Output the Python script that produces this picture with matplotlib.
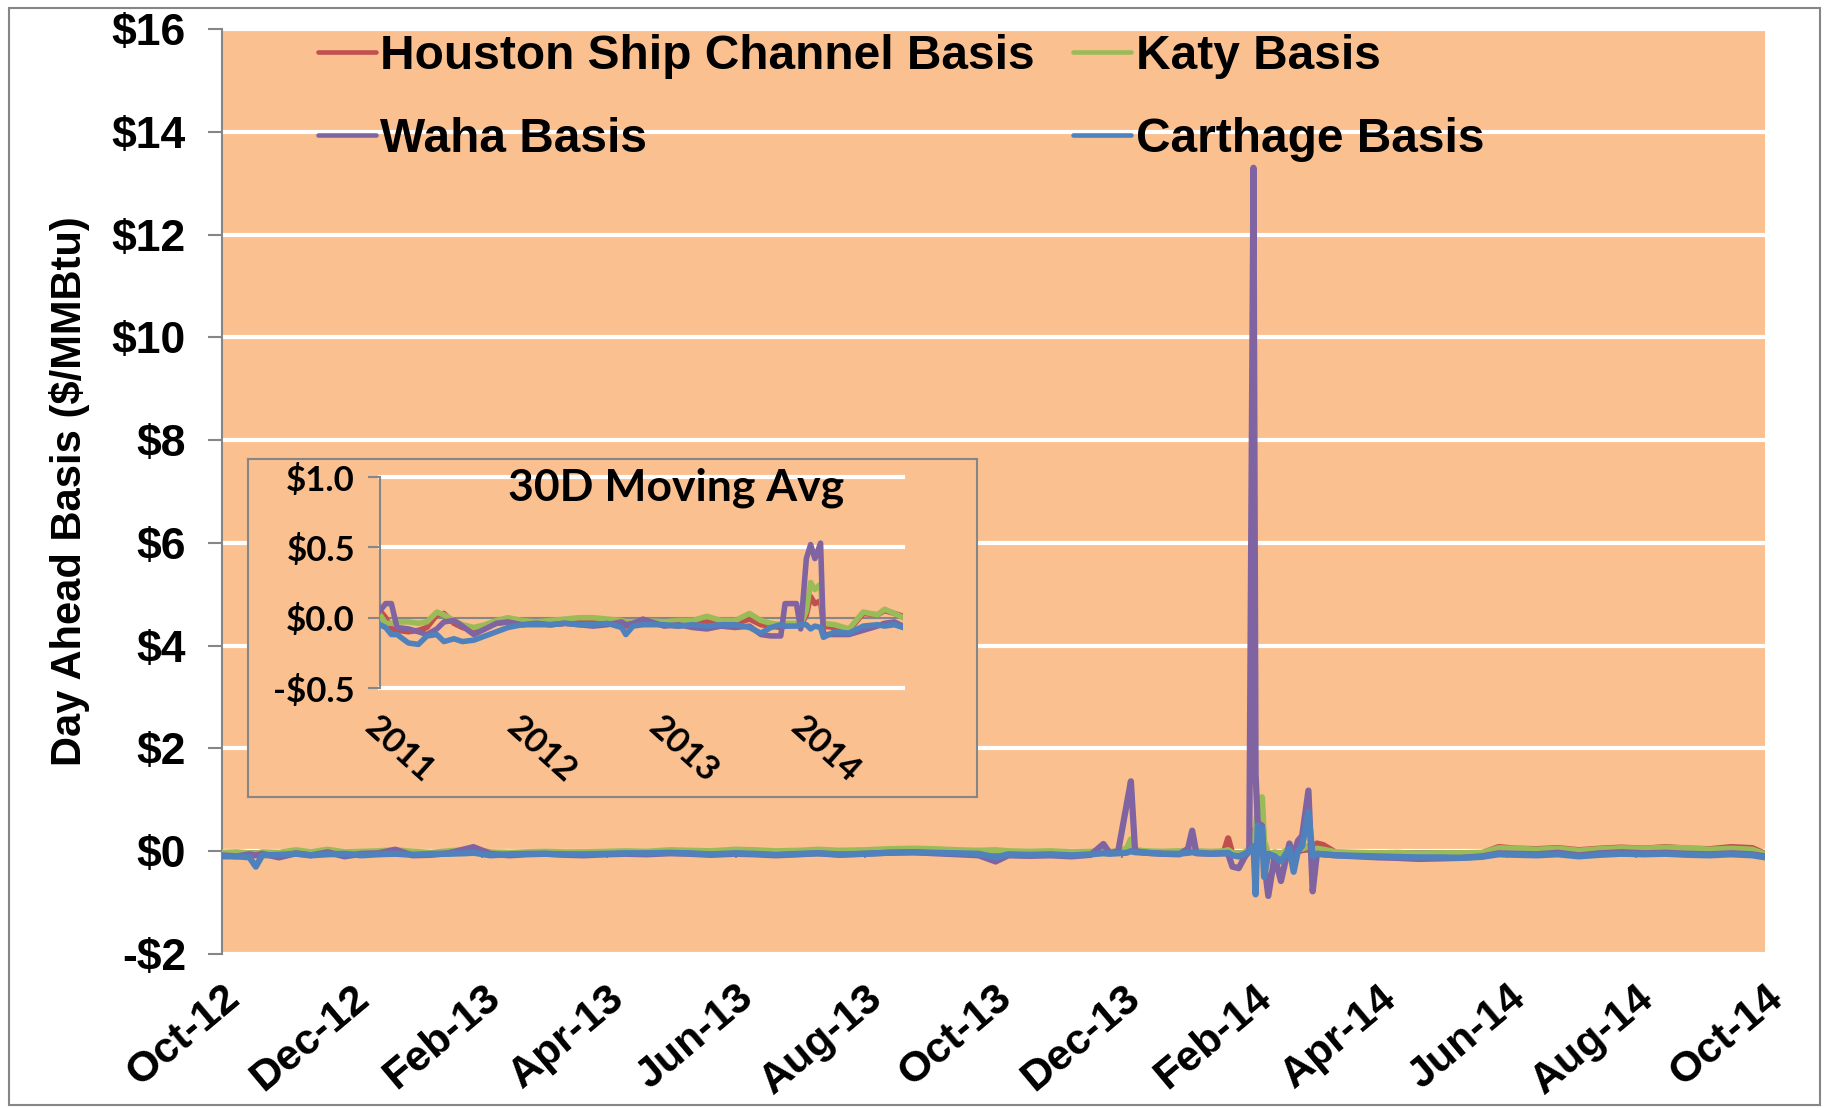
import pandas as pd
import matplotlib
matplotlib.use("Agg")
import matplotlib.pyplot as plt
import matplotlib.dates as mdates
from matplotlib.patches import Rectangle
from matplotlib.ticker import FuncFormatter

ORANGE = "#FAC090"
GRAY = "#868686"
C_HSC = "#C0504D"
C_KATY = "#9BBB59"
C_WAHA = "#8064A2"
C_CARTH = "#4F81BD"

# ---- daily basis, Oct-12 .. Oct-14 ($/MMBtu) ----
dates = pd.to_datetime([
    "2012-10-01", "2012-10-08", "2012-10-14", "2012-10-17", "2012-10-20", "2012-10-28",
    "2012-11-05", "2012-11-12", "2012-11-20", "2012-11-28", "2012-12-06", "2012-12-14",
    "2012-12-22", "2012-12-30", "2013-01-08", "2013-01-16", "2013-01-24", "2013-01-28",
    "2013-02-05", "2013-02-14", "2013-02-22", "2013-03-03", "2013-03-12", "2013-03-21",
    "2013-04-01", "2013-04-10", "2013-04-20", "2013-05-01", "2013-05-10", "2013-05-20",
    "2013-06-01", "2013-06-10", "2013-06-20", "2013-07-01", "2013-07-10", "2013-07-20",
    "2013-08-01", "2013-08-12", "2013-08-24", "2013-09-03", "2013-09-14", "2013-09-24",
    "2013-10-02", "2013-10-08", "2013-10-18", "2013-10-28", "2013-11-07", "2013-11-16",
    "2013-11-22", "2013-11-25", "2013-11-29", "2013-12-03", "2013-12-05", "2013-12-07",
    "2013-12-12", "2013-12-20", "2013-12-28", "2014-01-01", "2014-01-03", "2014-01-05",
    "2014-01-12", "2014-01-18", "2014-01-20", "2014-01-22", "2014-01-25", "2014-01-28",
    "2014-01-30", "2014-02-01", "2014-02-02", "2014-02-03", "2014-02-05", "2014-02-06",
    "2014-02-08", "2014-02-11", "2014-02-14", "2014-02-18", "2014-02-20", "2014-02-22",
    "2014-02-24", "2014-02-27", "2014-03-01", "2014-03-03", "2014-03-06", "2014-03-12",
    "2014-03-22", "2014-04-01", "2014-04-10", "2014-04-20", "2014-05-01", "2014-05-10",
    "2014-05-20", "2014-05-28", "2014-06-05", "2014-06-15", "2014-06-25", "2014-07-05",
    "2014-07-15", "2014-07-25", "2014-08-05", "2014-08-15", "2014-08-25", "2014-09-05",
    "2014-09-15", "2014-09-25", "2014-10-01",
])
hsc = [
    -0.05, -0.04, -0.06, -0.07, -0.05, -0.08,
    -0.03, -0.06, -0.04, -0.05, -0.04, -0.03,
    -0.02, -0.04, -0.05, -0.03, -0.02, -0.01,
    -0.06, -0.05, -0.04, -0.03, -0.04, -0.03,
    -0.03, -0.02, -0.03, -0.01, -0.02, -0.03,
    -0.02, -0.01, -0.03, -0.02, -0.01, -0.03,
    -0.02, -0.01, 0.00, -0.01, -0.02, -0.03,
    -0.02, -0.03, -0.03, -0.02, -0.04, -0.03,
    -0.02, -0.03, -0.02, -0.01, 0.02, -0.01,
    -0.02, -0.03, -0.02, -0.02, -0.01, -0.02,
    -0.03, -0.02, 0.25, -0.05, -0.10, -0.03,
    0.00, 0.40, 0.20, 0.50, 0.80, 0.00,
    -0.10, -0.05, -0.10, 0.00, -0.05, 0.00,
    0.02, 0.05, 0.00, 0.15, 0.12, -0.03,
    -0.04, -0.05, -0.04, -0.06, -0.05, -0.06,
    -0.04, 0.08, 0.05, 0.04, 0.06, 0.02,
    0.05, 0.07, 0.05, 0.08, 0.05, 0.04,
    0.08, 0.06, -0.05,
]
katy = [
    -0.03, -0.02, -0.04, -0.05, -0.02, -0.03,
    0.02, -0.02, 0.03, -0.02, -0.01, 0.00,
    0.02, -0.01, -0.03, 0.00, 0.02, 0.03,
    -0.02, -0.03, -0.02, -0.01, -0.02, -0.02,
    -0.01, 0.00, -0.01, 0.02, 0.01, 0.00,
    0.03, 0.02, 0.00, 0.01, 0.03, 0.01,
    0.02, 0.04, 0.05, 0.04, 0.02, 0.01,
    0.02, 0.00, -0.01, 0.00, -0.02, -0.01,
    0.00, -0.01, 0.00, 0.05, 0.23, 0.02,
    0.00, -0.01, 0.00, 0.00, 0.02, 0.00,
    -0.01, 0.00, 0.02, -0.03, -0.05, -0.02,
    0.05, 0.30, 0.40, 0.90, 1.05, 0.20,
    -0.05, -0.02, -0.05, 0.05, -0.02, 0.05,
    0.05, 0.10, -0.02, 0.05, 0.03, -0.02,
    -0.03, -0.04, -0.03, -0.05, -0.04, -0.04,
    -0.03, 0.06, 0.05, 0.03, 0.05, 0.01,
    0.04, 0.06, 0.05, 0.07, 0.06, 0.03,
    0.05, 0.03, -0.06,
]
waha = [
    -0.08, -0.10, -0.06, -0.08, -0.05, -0.12,
    -0.04, -0.08, -0.02, -0.10, -0.05, -0.04,
    0.03, -0.08, -0.07, -0.04, 0.04, 0.08,
    -0.05, -0.08, -0.06, -0.05, -0.07, -0.08,
    -0.06, -0.05, -0.06, -0.04, -0.05, -0.07,
    -0.05, -0.06, -0.08, -0.06, -0.04, -0.07,
    -0.05, -0.03, -0.02, -0.04, -0.06, -0.08,
    -0.20, -0.08, -0.09, -0.08, -0.10, -0.07,
    0.14, -0.04, 0.00, 0.91, 1.36, 0.00,
    -0.03, -0.05, -0.06, 0.05, 0.40, -0.04,
    -0.05, -0.04, -0.05, -0.30, -0.33, -0.10,
    0.00, 13.30, 1.50, 0.55, 0.50, -0.20,
    -0.87, -0.10, -0.58, 0.15, -0.10, 0.20,
    0.30, 1.18, -0.78, -0.05, -0.06, -0.08,
    -0.10, -0.12, -0.13, -0.15, -0.14, -0.13,
    -0.10, -0.04, -0.05, -0.06, -0.03, -0.08,
    -0.04, -0.02, -0.04, -0.03, -0.05, -0.06,
    -0.04, -0.06, -0.10,
]
carthage = [
    -0.10, -0.10, -0.12, -0.30, -0.08, -0.07,
    -0.05, -0.08, -0.06, -0.05, -0.08, -0.06,
    -0.05, -0.07, -0.05, -0.05, -0.04, -0.03,
    -0.08, -0.06, -0.05, -0.05, -0.06, -0.06,
    -0.05, -0.04, -0.04, -0.03, -0.04, -0.06,
    -0.04, -0.05, -0.07, -0.05, -0.04, -0.06,
    -0.05, -0.03, -0.02, -0.03, -0.04, -0.05,
    -0.12, -0.06, -0.07, -0.06, -0.08, -0.06,
    -0.04, -0.05, -0.04, -0.03, 0.00, -0.02,
    -0.03, -0.05, -0.05, -0.03, -0.02, -0.03,
    -0.05, -0.04, -0.03, -0.08, -0.10, -0.05,
    0.00, 0.10, -0.84, 0.50, 0.45, -0.50,
    -0.05, -0.10, -0.20, 0.05, -0.40, 0.00,
    0.10, 0.76, -0.10, -0.05, -0.06, -0.08,
    -0.09, -0.10, -0.11, -0.12, -0.12, -0.13,
    -0.11, -0.06, -0.07, -0.08, -0.06, -0.10,
    -0.07, -0.05, -0.06, -0.05, -0.07, -0.08,
    -0.06, -0.08, -0.12,
]

# ---- 30 day moving average, 2011 .. 2014 (decimal years) ----
ma_years = [
    2011.00, 2011.04, 2011.08, 2011.12, 2011.20, 2011.27, 2011.33, 2011.40, 2011.45,
    2011.52, 2011.58, 2011.66, 2011.74, 2011.82, 2011.90, 2012.00, 2012.10, 2012.20,
    2012.30, 2012.40, 2012.50, 2012.60, 2012.70, 2012.73, 2012.78, 2012.85, 2013.00,
    2013.10, 2013.20, 2013.30, 2013.40, 2013.50, 2013.60, 2013.68, 2013.75, 2013.82,
    2013.85, 2013.93, 2013.96, 2014.00, 2014.03, 2014.06, 2014.10, 2014.12, 2014.20,
    2014.30, 2014.40, 2014.50, 2014.55, 2014.62, 2014.68,
]
ma_hsc = [
    0.05, 0.00, -0.08, -0.09, -0.10, -0.09, -0.07, 0.02, 0.03,
    -0.04, -0.07, -0.09, -0.06, -0.04, -0.03, -0.05, -0.04, -0.05,
    -0.04, -0.03, -0.03, -0.04, -0.05, -0.06, -0.05, -0.04, -0.05,
    -0.06, -0.04, -0.03, -0.05, -0.04, -0.01, -0.05, -0.06, -0.07,
    -0.06, -0.05, -0.06, 0.02, 0.15, 0.10, 0.12, -0.06, -0.07,
    -0.09, 0.03, 0.02, 0.05, 0.03, 0.01,
]
ma_katy = [
    0.02, -0.04, -0.04, -0.03, -0.03, -0.04, -0.03, 0.04, 0.02,
    -0.02, -0.05, -0.07, -0.05, -0.02, 0.00, -0.02, -0.03, -0.02,
    -0.01, 0.00, 0.00, -0.01, -0.02, -0.03, -0.03, -0.02, -0.03,
    -0.02, -0.02, 0.01, -0.02, -0.02, 0.03, -0.02, -0.04, -0.05,
    -0.04, -0.04, -0.05, 0.05, 0.25, 0.20, 0.24, -0.04, -0.05,
    -0.08, 0.04, 0.02, 0.06, 0.03, 0.00,
]
ma_waha = [
    0.05, 0.10, 0.10, -0.07, -0.08, -0.10, -0.12, -0.08, -0.03,
    -0.02, -0.06, -0.12, -0.08, -0.04, -0.03, -0.05, -0.04, -0.05,
    -0.04, -0.05, -0.06, -0.05, -0.03, -0.05, -0.04, -0.01, -0.06,
    -0.05, -0.07, -0.08, -0.06, -0.07, -0.06, -0.12, -0.13, -0.13,
    0.10, 0.10, -0.08, 0.42, 0.52, 0.42, 0.53, -0.12, -0.12,
    -0.12, -0.09, -0.06, -0.04, -0.03, -0.06,
]
ma_carth = [
    -0.05, -0.07, -0.12, -0.12, -0.18, -0.19, -0.13, -0.12, -0.17,
    -0.15, -0.17, -0.16, -0.13, -0.10, -0.07, -0.05, -0.05, -0.05,
    -0.04, -0.05, -0.05, -0.04, -0.07, -0.12, -0.06, -0.05, -0.05,
    -0.06, -0.05, -0.06, -0.05, -0.05, -0.07, -0.11, -0.07, -0.05,
    -0.06, -0.06, -0.05, -0.05, -0.08, -0.06, -0.07, -0.14, -0.10,
    -0.11, -0.06, -0.05, -0.06, -0.05, -0.07,
]
ma_ticks = [2011, 2012, 2013, 2014]

series = [
    ("Houston Ship Channel Basis", hsc, ma_hsc, C_HSC),
    ("Katy Basis", katy, ma_katy, C_KATY),
    ("Waha Basis", waha, ma_waha, C_WAHA),
    ("Carthage Basis", carthage, ma_carth, C_CARTH),
]

W, H = 1835, 1108
fig = plt.figure(figsize=(W / 100, H / 100), dpi=100)
fig.patches.append(Rectangle((0.005, 0.003), 0.987, 0.990, transform=fig.transFigure,
                             fill=False, ec=GRAY, lw=1.5))

main_font = dict(family="Liberation Sans", weight="bold")
ins_font = dict(family="Lato", weight="bold")


def money(v, p, dec=0):
    s = f"${abs(v):.{dec}f}"
    return "-" + s if v < -1e-9 else s


# ---- main chart ----
ax = fig.add_axes([222 / W, 1 - 954 / H, 1543 / W, 925 / H])
ax.set_facecolor(ORANGE)
ax.set_ylim(-2, 16)
ax.set_xlim(pd.Timestamp("2012-10-01"), pd.Timestamp("2014-10-01"))
ax.set_yticks(range(-2, 17, 2))
ax.yaxis.grid(True, color="white", lw=3)
ax.set_axisbelow(True)
for s in ["top", "right", "bottom"]:
    ax.spines[s].set_visible(False)
ax.spines["left"].set_color(GRAY)
ax.spines["left"].set_linewidth(1.5)
ax.yaxis.set_major_formatter(FuncFormatter(money))
ax.tick_params(axis="y", direction="out", length=10, width=1.5, color=GRAY, pad=16)
for t in ax.get_yticklabels():
    t.set(fontsize=32, **main_font)

xticks = pd.date_range("2012-10-01", "2014-10-01", freq="2MS")
ax.set_xticks(xticks)
ax.xaxis.set_major_formatter(mdates.DateFormatter("%b-%y"))
ax.tick_params(axis="x", length=0, pad=17)
for t in ax.get_xticklabels():
    t.set(fontsize=31, rotation=40, ha="right", va="top", rotation_mode="anchor", **main_font)

ax.axhline(0, color=GRAY, lw=2, zorder=1.5)
ax.vlines(xticks, -0.14, 0, color=GRAY, lw=1.5, zorder=1.5)

handles = {}
for name, vals, _, col in series:
    handles[name], = ax.plot(dates, vals, color=col, lw=4.5, solid_joinstyle="round",
                             solid_capstyle="round", label=name, zorder=3)

ax.set_ylabel("Day Ahead Basis ($/MMBtu)", fontsize=30, **main_font)
ax.yaxis.set_label_coords(-0.0855, 0.5)

order = ["Houston Ship Channel Basis", "Waha Basis", "Katy Basis", "Carthage Basis"]
leg = ax.legend([handles[n] for n in order], order, ncol=2, loc="upper left",
                bbox_to_anchor=(0.062, 0.995), frameon=False,
                prop=dict(size=34.5, **main_font), handlelength=1.21, handletextpad=0.1,
                columnspacing=0.8, labelspacing=0.8, borderaxespad=0, borderpad=0)
for ln in leg.get_lines():
    ln.set_linewidth(3.3)

# ---- inset: 30D moving average ----
bg = fig.add_axes([248 / W, 1 - 797 / H, 729 / W, 338 / H])
bg.set_facecolor(ORANGE)
bg.set_xticks([])
bg.set_yticks([])
for s in bg.spines.values():
    s.set_color(GRAY)
    s.set_linewidth(1.5)

ins = fig.add_axes([380 / W, 1 - 688 / H, 523 / W, 211 / H])
ins.set_facecolor("none")
ins.set_xlim(2011, 2014.68)
ins.set_ylim(-0.5, 1.0)
for s in ["top", "right", "bottom"]:
    ins.spines[s].set_visible(False)
ins.spines["left"].set_color(GRAY)
ins.spines["left"].set_linewidth(1.5)
for y in (1.0, 0.5, -0.5):
    ins.axhline(y, color="white", lw=3, clip_on=False, zorder=1)
ins.axhline(0, color=GRAY, lw=1.5, zorder=1.5)
ins.set_yticks([-0.5, 0.0, 0.5, 1.0])
ins.yaxis.set_major_formatter(FuncFormatter(lambda v, p: money(v, p, 1)))
ins.tick_params(axis="y", direction="out", length=9, width=1.5, color=GRAY, pad=9)
for t in ins.get_yticklabels():
    t.set(fontsize=25, **ins_font)
ins.set_xticks(ma_ticks)
ins.set_xticklabels([str(y) for y in ma_ticks])
ins.tick_params(axis="x", length=0, pad=16)
for t in ins.get_xticklabels():
    t.set(fontsize=25, rotation=-42, ha="left", va="top", rotation_mode="anchor", **ins_font)

for name, _, ma, col in series:
    ins.plot(ma_years, ma, color=col, lw=4, solid_joinstyle="round", zorder=3)

ins.text(0.566, 0.948, "30D Moving Avg", transform=ins.transAxes, ha="center",
         va="center", fontsize=32, **ins_font)

fig.savefig("out.png", dpi=100)
